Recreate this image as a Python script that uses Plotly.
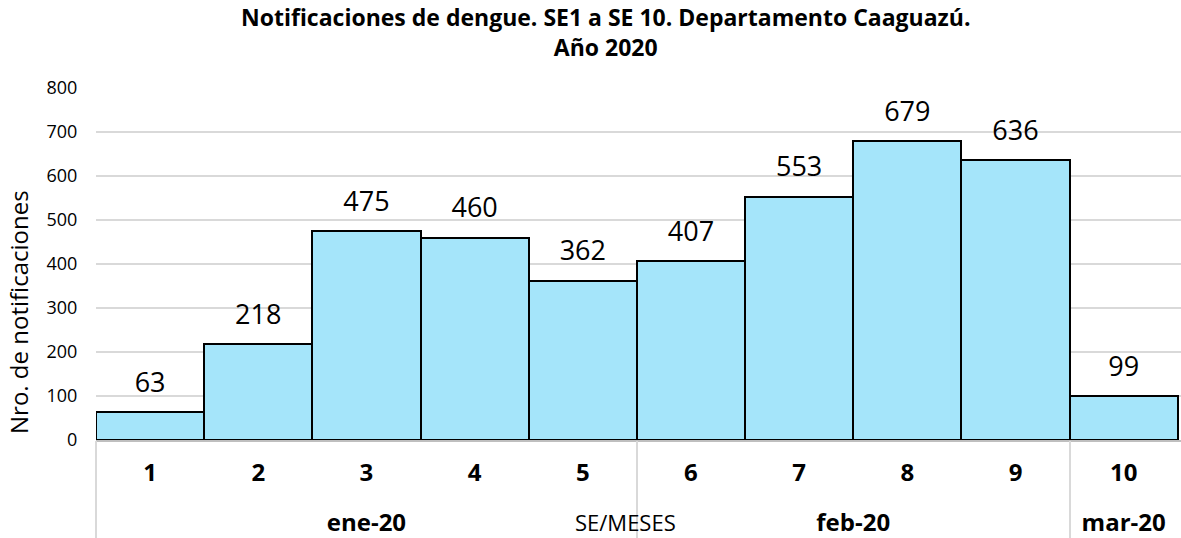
import plotly.graph_objects as go

weeks = ["1", "2", "3", "4", "5", "6", "7", "8", "9", "10"]
months = ["ene-20"] * 5 + ["feb-20"] * 4 + ["mar-20"]
values = [63, 218, 475, 460, 362, 407, 553, 679, 636, 99]

# month groups derived from the data: label, centre and boundaries on the category scale
groups = []
for i, m in enumerate(months):
    if not groups or groups[-1][0] != m:
        groups.append([m, i, i])
    else:
        groups[-1][2] = i
month_names = [g[0] for g in groups]
month_centers = [(g[1] + g[2]) / 2 for g in groups]
# left edge plus the boundaries between months (the reference is cropped on the right)
month_bounds = [groups[0][1] - 0.5] + [g[2] + 0.5 for g in groups[:-1]]

x_range = [-0.5, len(weeks) - 0.5 + 0.03]

fig = go.Figure()
fig.add_trace(go.Bar(
    x=weeks,
    y=values,
    marker=dict(color="#A5E5FA", line=dict(color="#000000", width=2)),
    hoverinfo="y",
))
fig.add_trace(go.Scatter(
    x=weeks,
    y=values,
    mode="markers+text",
    text=[str(v) for v in values],
    textposition="top center",
    textfont=dict(size=27, color="#000000", family="Open Sans"),
    marker=dict(size=20, opacity=0),
    cliponaxis=False,
    hoverinfo="skip",
))
# invisible trace so the month axis is drawn
fig.add_trace(go.Scatter(
    x=month_centers, y=[0] * len(month_centers), xaxis="x2",
    mode="markers", marker=dict(size=1, opacity=0), hoverinfo="skip",
))

fig.update_layout(
    width=1181, height=538,
    margin=dict(l=96, r=0, t=88, b=98),
    paper_bgcolor="white", plot_bgcolor="white",
    bargap=0,
    showlegend=False,
    font=dict(family="Open Sans", color="#000000"),
    xaxis=dict(
        type="category",
        automargin=False,
        range=x_range,
        tickfont=dict(size=24, family="Open Sans", weight="bold", color="#000000"),
        showline=True, linecolor="#BFBFBF", linewidth=2,
        ticks="", ticklabelstandoff=10,
        showgrid=False,
    ),
    xaxis2=dict(
        overlaying="x", anchor="y", side="bottom",
        automargin=False,
        range=x_range,
        tickmode="array", tickvals=month_centers, ticktext=month_names,
        tickfont=dict(size=24, family="Open Sans", weight="bold", color="#000000"),
        ticks="", ticklabelstandoff=66,
        showline=False, showgrid=False, zeroline=False,
        minor=dict(tickmode="array", tickvals=month_bounds, ticks="outside",
                   ticklen=98, tickcolor="#D9D9D9", tickwidth=1.5, showgrid=False),
    ),
    yaxis=dict(
        automargin=False,
        range=[0, 800], dtick=100, tick0=0,
        showgrid=True, gridcolor="#D9D9D9", gridwidth=1.5,
        zeroline=False,
        tickfont=dict(size=18, color="#000000"),
        ticks="outside", ticklen=14, tickcolor="rgba(0,0,0,0)",
    ),
)

fig.add_annotation(
    text="<b>Notificaciones de dengue. SE1 a SE 10. Departamento Caaguazú.<br>Año 2020</b>",
    xref="paper", yref="paper",
    x=(606 - 96) / (1181 - 96), y=(440 - 31.5) / 352,
    xanchor="center", yanchor="middle", showarrow=False,
    font=dict(size=23, color="#000000", family="Open Sans"),
)
fig.add_annotation(
    text="Nro. de notificaciones", xref="paper", yref="paper",
    x=(18 - 96) / (1181 - 96), y=(440 - 312) / 352, textangle=-90,
    xanchor="center", yanchor="middle", showarrow=False,
    font=dict(size=24, color="#000000", family="Open Sans"),
)
fig.add_annotation(
    text="SE/MESES", xref="paper", yref="paper",
    x=(625 - 96) / (1181 - 96), y=(440 - 522) / 352, xanchor="center", yanchor="middle",
    showarrow=False, font=dict(size=22, color="#000000", family="Open Sans"),
)

fig.write_html("out.html", config={"displayModeBar": False},
               post_script="document.body.style.margin='0';")
